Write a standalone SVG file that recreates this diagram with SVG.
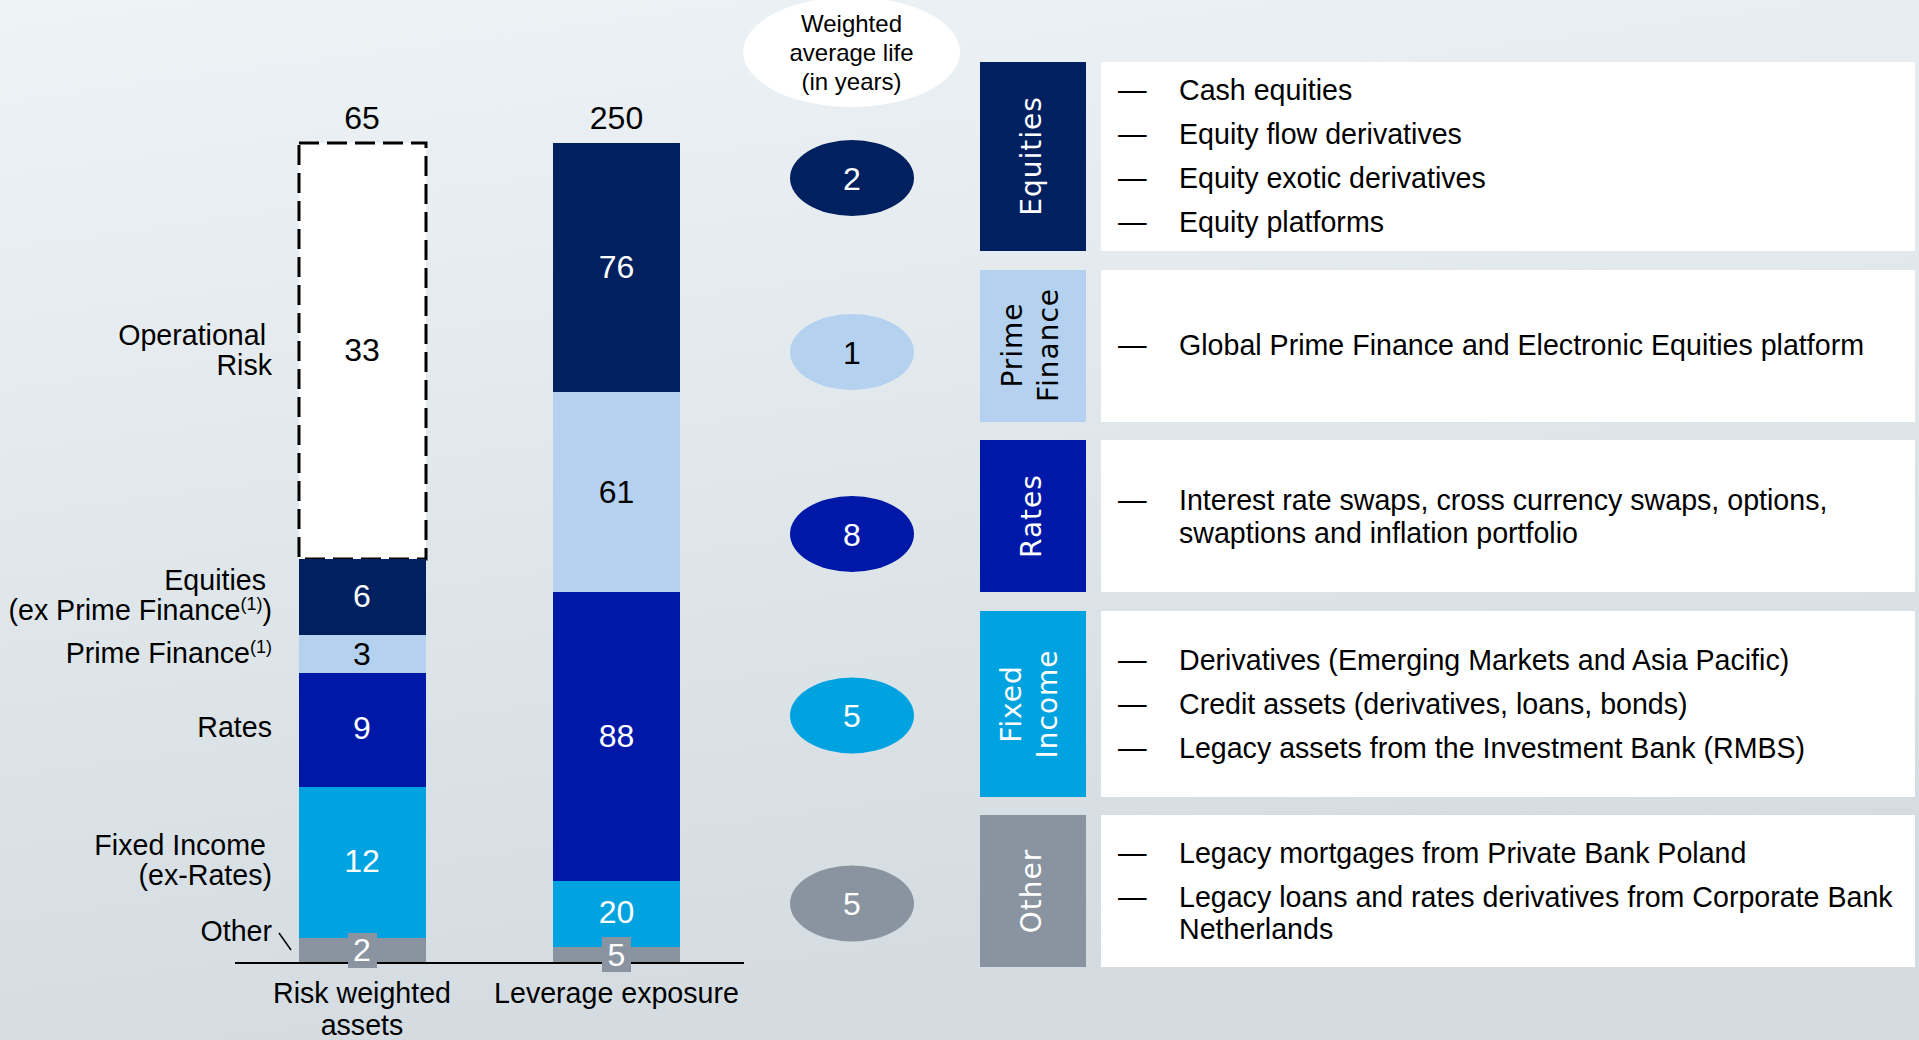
<svg xmlns="http://www.w3.org/2000/svg" width="1919" height="1040" viewBox="0 0 1919 1040">
<defs>
<linearGradient id="bg" x1="0" y1="0" x2="0.25" y2="1">
<stop offset="0" stop-color="#eef3f6"/>
<stop offset="1" stop-color="#d4dce1"/>
</linearGradient>
<style>
.t{font-family:"Liberation Sans",Arial,sans-serif;font-size:28.6px;fill:#000}
.n{font-family:"Liberation Sans",Arial,sans-serif;font-size:32px;text-anchor:middle}
.w{fill:#fff}
.k{fill:#000}
.r{text-anchor:end}
.m{text-anchor:middle}
.v{font-family:"DejaVu Sans",Verdana,sans-serif;font-size:28px;text-anchor:middle;letter-spacing:1px}
.hdr{font-family:"Liberation Sans",Arial,sans-serif;font-size:24px;text-anchor:middle;fill:#000}
.sup{font-size:18px}
.navy{fill:#00205f}
.royal{fill:#0018a8}
.light{fill:#b4d2ef}
.cyan{fill:#00a3e0}
.gray{fill:#8994a0}
</style>
</defs>
<rect x="0" y="0" width="1919" height="1040" fill="url(#bg)"/>

<!-- Left bar: Risk weighted assets -->
<g id="bar-rwa">
<rect x="299" y="143" width="127" height="416" fill="#fff" stroke="#000" stroke-width="3" stroke-dasharray="20 8"/>
<rect class="navy" x="299" y="559" width="127" height="76"/>
<rect class="light" x="299" y="635" width="127" height="38"/>
<rect class="royal" x="299" y="673" width="127" height="114"/>
<rect class="cyan" x="299" y="787" width="127" height="151"/>
<rect class="gray" x="299" y="938" width="127" height="25"/>
<text class="n k" x="362" y="129">65</text>
<text class="n k" x="362" y="361">33</text>
<text class="n w" x="362" y="607">6</text>
<text class="n k" x="362" y="665">3</text>
<text class="n w" x="362" y="739">9</text>
<text class="n w" x="362" y="872">12</text>
</g>

<!-- Right bar: Leverage exposure -->
<g id="bar-le">
<rect class="navy" x="553" y="143" width="127" height="249"/>
<rect class="light" x="553" y="392" width="127" height="200"/>
<rect class="royal" x="553" y="592" width="127" height="289"/>
<rect class="cyan" x="553" y="881" width="127" height="66"/>
<rect class="gray" x="553" y="947" width="127" height="16"/>
<text class="n k" x="616.5" y="129">250</text>
<text class="n w" x="616.5" y="278">76</text>
<text class="n k" x="616.5" y="503">61</text>
<text class="n w" x="616.5" y="747">88</text>
<text class="n w" x="616.5" y="923">20</text>
</g>

<!-- axis -->
<g id="axis">
<line x1="235" y1="963" x2="744" y2="963" stroke="#000" stroke-width="2"/>
<line x1="279" y1="933" x2="291" y2="950" stroke="#000" stroke-width="1.5"/>
</g>
<g id="label-other-rwa">
<rect class="gray" x="348" y="933" width="29" height="35"/>
<text class="n w" x="362" y="961">2</text>
</g>
<g id="label-other-le">
<rect class="gray" x="602" y="937" width="29" height="35"/>
<text class="n w" x="616.5" y="966">5</text>
</g>

<!-- Left category labels -->
<g id="left-labels">
<text class="t r" x="266" y="345">Operational</text>
<text class="t r" x="272" y="375">Risk</text>
<text class="t r" x="266" y="590">Equities</text>
<text class="t r" x="272" y="620">(ex Prime Finance<tspan class="sup" dy="-10">(1)</tspan><tspan dy="10">)</tspan></text>
<text class="t r" x="272" y="663">Prime Finance<tspan class="sup" dy="-10">(1)</tspan></text>
<text class="t r" x="272" y="737">Rates</text>
<text class="t r" x="266" y="855">Fixed Income</text>
<text class="t r" x="272" y="885">(ex-Rates)</text>
<text class="t r" x="272" y="941">Other</text>
</g>

<g id="axis-labels">
<text class="t m" x="362" y="1003">Risk weighted</text>
<text class="t m" x="362" y="1035">assets</text>
<text class="t m" x="616.5" y="1003">Leverage exposure</text>
</g>

<!-- Weighted average life -->
<g id="wal-header">
<ellipse cx="851.5" cy="52" rx="108.5" ry="55" fill="#fff"/>
<text class="hdr" x="851.5" y="32">Weighted</text>
<text class="hdr" x="851.5" y="61">average life</text>
<text class="hdr" x="851.5" y="90">(in years)</text>
</g>
<g id="wal-equities"><ellipse class="navy" cx="852" cy="178" rx="62" ry="38"/><text class="n w" x="852" y="189.5">2</text></g>
<g id="wal-prime"><ellipse class="light" cx="852" cy="352" rx="62" ry="38"/><text class="n k" x="852" y="363.5">1</text></g>
<g id="wal-rates"><ellipse class="royal" cx="852" cy="534" rx="62" ry="38"/><text class="n w" x="852" y="545.5">8</text></g>
<g id="wal-fixed"><ellipse class="cyan" cx="852" cy="715.5" rx="62" ry="38"/><text class="n w" x="852" y="727">5</text></g>
<g id="wal-other"><ellipse class="gray" cx="852" cy="903.5" rx="62" ry="38"/><text class="n w" x="852" y="915">5</text></g>

<!-- Right table -->
<g id="row-equities">
<rect class="navy" x="980" y="62" width="106" height="189"/>
<rect x="1101" y="62" width="814" height="189" fill="#fff"/>
<text class="v w" transform="translate(1041,156) rotate(-90)">Equities</text>
<text class="t" x="1118" y="100">—</text><text class="t" x="1179" y="100">Cash equities</text>
<text class="t" x="1118" y="144">—</text><text class="t" x="1179" y="144">Equity flow derivatives</text>
<text class="t" x="1118" y="188">—</text><text class="t" x="1179" y="188">Equity exotic derivatives</text>
<text class="t" x="1118" y="232">—</text><text class="t" x="1179" y="232">Equity platforms</text>
</g>
<g id="row-prime">
<rect class="light" x="980" y="270" width="106" height="152"/>
<rect x="1101" y="270" width="814" height="152" fill="#fff"/>
<text class="v k" transform="translate(1022,345) rotate(-90)">Prime</text>
<text class="v k" transform="translate(1058,345) rotate(-90)">Finance</text>
<text class="t" x="1118" y="355">—</text><text class="t" x="1179" y="355">Global Prime Finance and Electronic Equities platform</text>
</g>
<g id="row-rates">
<rect class="royal" x="980" y="440" width="106" height="152"/>
<rect x="1101" y="440" width="814" height="152" fill="#fff"/>
<text class="v w" transform="translate(1041,516) rotate(-90)">Rates</text>
<text class="t" x="1118" y="510">—</text><text class="t" x="1179" y="510">Interest rate swaps, cross currency swaps, options,</text>
<text class="t" x="1179" y="543">swaptions and inflation portfolio</text>
</g>
<g id="row-fixed">
<rect class="cyan" x="980" y="611" width="106" height="186"/>
<rect x="1101" y="611" width="814" height="186" fill="#fff"/>
<text class="v w" transform="translate(1021,704) rotate(-90)">Fixed</text>
<text class="v w" transform="translate(1057,704) rotate(-90)">Income</text>
<text class="t" x="1118" y="670">—</text><text class="t" x="1179" y="670">Derivatives (Emerging Markets and Asia Pacific)</text>
<text class="t" x="1118" y="714">—</text><text class="t" x="1179" y="714">Credit assets (derivatives, loans, bonds)</text>
<text class="t" x="1118" y="758">—</text><text class="t" x="1179" y="758">Legacy assets from the Investment Bank (RMBS)</text>
</g>
<g id="row-other">
<rect class="gray" x="980" y="815" width="106" height="152"/>
<rect x="1101" y="815" width="814" height="152" fill="#fff"/>
<text class="v w" transform="translate(1041,891) rotate(-90)">Other</text>
<text class="t" x="1118" y="863">—</text><text class="t" x="1179" y="863">Legacy mortgages from Private Bank Poland</text>
<text class="t" x="1118" y="907">—</text><text class="t" x="1179" y="907">Legacy loans and rates derivatives from Corporate Bank</text>
<text class="t" x="1179" y="939">Netherlands</text>
</g>
</svg>
